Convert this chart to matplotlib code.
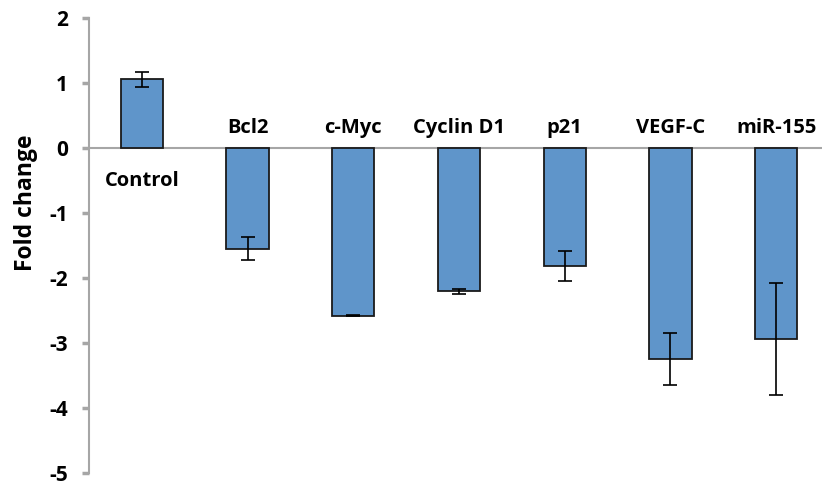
import matplotlib
matplotlib.use("Agg")
import matplotlib.pyplot as plt
import numpy as np

categories = ["Control", "Bcl2", "c-Myc", "Cyclin D1", "p21", "VEGF-C", "miR-155"]
fold_change = [1.05, -1.55, -2.58, -2.21, -1.82, -3.25, -2.94]
errors = [0.12, 0.18, 0.01, 0.04, 0.235, 0.395, 0.86]
yticks = [2, 1, 0, -1, -2, -3, -4, -5]

plt.rcParams['font.family'] = ['Open Sans', 'DejaVu Sans']

fig = plt.figure(figsize=(8.22, 4.88), dpi=100)
ax = fig.add_axes([89 / 822, 15 / 488, 740 / 822, 455.5 / 488])

x = np.arange(len(categories))
ax.bar(x, fold_change, width=0.4, color='#5F95CA', edgecolor='#1a1a1a', linewidth=1.3, zorder=2)
ax.errorbar(x, fold_change, yerr=errors, fmt='none', ecolor='black',
            elinewidth=1.2, capsize=5, capthick=1.2, zorder=3)

# category labels: above zero line for negative bars, below for control
for xi, name, v in zip(x, categories, fold_change):
    y = -0.52 if v > 0 else 0.3
    ax.text(xi, y, name, ha='center', va='center', fontsize=14.5, fontweight='bold')

ax.axhline(0, color='#A6A6A6', linewidth=1.5, zorder=1)

ax.set_xlim(-0.5, len(categories) - 0.5)
ax.set_ylim(-5, 2)
ax.set_yticks(yticks)
ax.set_yticklabels([str(t) for t in yticks], fontsize=15, fontweight='bold')
ax.set_xticks([])

for s in ['top', 'right', 'bottom']:
    ax.spines[s].set_visible(False)
ax.spines['left'].set_color('#A6A6A6')
ax.spines['left'].set_linewidth(1.5)
ax.tick_params(axis='y', direction='out', length=5, width=2.5, color='#A6A6A6', pad=10)

ax.set_ylabel('Fold change', fontsize=16.5, fontweight='bold')
ax.yaxis.set_label_coords(-(89 - 38) / 740, 0.593)

fig.savefig('out.png', dpi=100)
